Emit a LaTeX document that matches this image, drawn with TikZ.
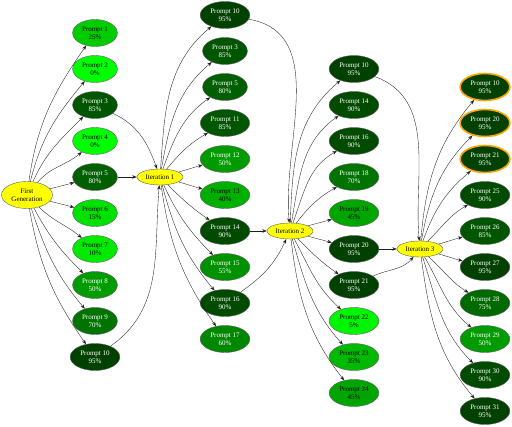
\documentclass[tikz,border=0pt]{standalone}
\usepackage{fontspec}
\setmainfont{Liberation Serif}
\usetikzlibrary{arrows.meta,shapes.geometric}
\definecolor{ink}{RGB}{30,30,30}
\definecolor{gold}{RGB}{255,255,0}
\definecolor{ring}{RGB}{255,165,0}

\begin{document}
\begin{tikzpicture}[x=1pt, y=-1pt,
    txt/.style={font=\fontsize{7}{8.4}\selectfont, align=center},
    stage/.style={ellipse, txt, draw=ink!70, line width=0.4pt, fill=gold,
      inner xsep=0.5pt, inner ysep=0.5pt, minimum width=46pt, minimum height=16pt},
    prompt/.style={ellipse, txt, draw=ink!70, line width=0.4pt,
      inner xsep=2.9pt, inner ysep=0.5pt, minimum height=27pt},
    score/.code={\pgfmathtruncatemacro\g{255-2*#1}\definecolor{shade}{RGB}{0,\g,0}%
      \ifnum#1<50 \tikzset{fill=shade, text=black}\else\tikzset{fill=shade, text=white}\fi},
    usual/.style={},
    best/.style={draw=ring, line width=1.6pt},
    link/.style={-{Stealth[length=4.5pt,width=3.4pt]}, line width=0.35pt, color=ink}]

  \useasboundingbox (0,0) rectangle (512,427);

  % ---- yellow stages --------------------------------------------------------
  \node[stage, minimum width=51pt, minimum height=27pt] (fg) at (27,195) {First\\Generation};
  \node[stage] (it1) at (160,177) {Iteration 1};
  \node[stage] (it2) at (290,231) {Iteration 2};
  \node[stage] (it3) at (420,249) {Iteration 3};

  % ---- prompt columns: number/score/y ---------------------------------------
  \foreach \n/\p/\y in {1/25/33, 2/0/69, 3/85/105, 4/0/141, 5/80/177,
                        6/15/213, 7/10/249, 8/50/285, 9/70/321, 10/95/357} {
    \node[prompt, score=\p] (a\n) at (95,\y) {Prompt \n\\\p\%};
  }
  \foreach \n/\p/\y in {10/95/15, 3/85/51, 5/80/87, 11/85/123, 12/50/159,
                        13/40/195, 14/90/231, 15/55/267, 16/90/303, 17/60/339} {
    \node[prompt, score=\p] (b\n) at (225,\y) {Prompt \n\\\p\%};
  }
  \foreach \n/\p/\y in {10/95/69, 14/90/105, 16/90/141, 18/70/177, 19/45/213,
                        20/95/249, 21/95/285, 22/5/321, 23/35/357, 24/45/393} {
    \node[prompt, score=\p] (c\n) at (354,\y) {Prompt \n\\\p\%};
  }
  \foreach \n/\p/\y/\s in {10/95/87/best, 20/95/123/best, 21/95/159/best,
                           25/90/195/usual, 26/85/231/usual, 27/95/267/usual,
                           28/75/303/usual, 29/50/339/usual, 30/90/375/usual,
                           31/95/411/usual} {
    \node[prompt, score=\p, \s] (d\n) at (485,\y) {Prompt \n\\\p\%};
  }

  % ---- fan out: stage -> prompts (target/out/in) ----------------------------
  \foreach \k/\o/\i in {1/82/-125, 2/76/-130, 3/66/-135, 4/50/-140, 5/15/195,
                        6/-15/165, 7/-45/140, 8/-62/135, 9/-72/130, 10/-80/125}
    { \draw[link] (fg) to[out=\o, in=\i] (a\k); }
  \foreach \k/\o/\i in {10/86/-140, 3/80/-140, 5/70/-145, 11/50/-150, 12/15/195,
                        13/-15/165, 14/-45/145, 15/-65/135, 16/-75/130, 17/-82/125}
    { \draw[link] (it1) to[out=\o, in=\i] (b\k); }
  \foreach \k/\o/\i in {10/88/-140, 14/80/-145, 16/70/-150, 18/52/-150, 19/16/196,
                        20/-16/164, 21/-45/145, 22/-62/138, 23/-74/132, 24/-83/128}
    { \draw[link] (it2) to[out=\o, in=\i] (c\k); }
  \foreach \k/\o/\i in {10/85/-130, 20/80/-135, 21/70/-140, 25/45/-150, 26/15/195,
                        27/-15/165, 28/-42/148, 29/-60/140, 30/-72/135, 31/-82/130}
    { \draw[link] (it3) to[out=\o, in=\i] (d\k); }

  % ---- selected prompts feed the next stage ---------------------------------
  \draw[link] (a3) to[out=-25, in=110] (it1);
  \draw[link] (a5) -- (it1);
  \draw[link] (a10) to[out=35, in=-95] (it1);

  \draw[link] (b10) to[out=-10, in=95] (it2);
  \draw[link] (b14) -- (it2);
  \draw[link] (b16) to[out=35, in=-115] (it2);

  \draw[link] (c10) to[out=-20, in=95] (it3);
  \draw[link] (c20) -- (it3);
  \draw[link] (c21) to[out=25, in=-130] (it3);
\end{tikzpicture}
\end{document}
